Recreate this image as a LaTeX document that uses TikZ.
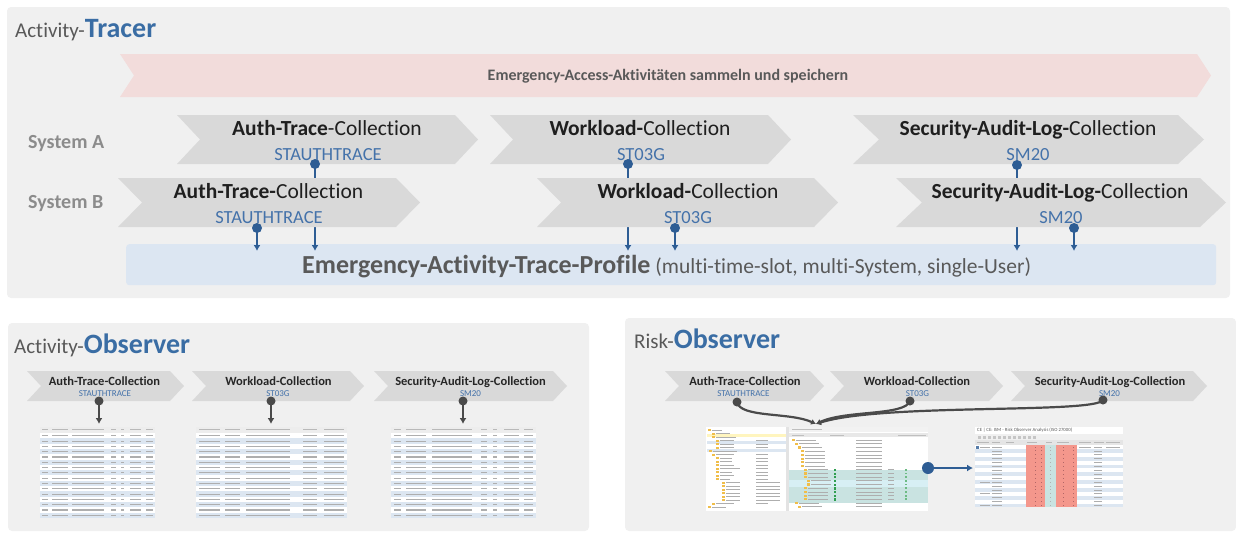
\documentclass[tikz,border=0pt]{standalone}
\usepackage{fontspec}
\setmainfont{Carlito}[Ligatures=NoCommon]
\usetikzlibrary{arrows.meta,calc}

\definecolor{panelgray}{HTML}{F0F0F0}
\definecolor{chevgray}{HTML}{D9D9D9}
\definecolor{bandpink}{HTML}{F2DCDB}
\definecolor{profblue}{HTML}{DCE6F2}
\definecolor{headblue}{HTML}{3A6DA4}
\definecolor{codeblue}{HTML}{4472AA}
\definecolor{linkblue}{HTML}{2E5D94}
\definecolor{textgray}{HTML}{595959}
\definecolor{sysgray}{HTML}{8C8C8C}
\definecolor{darklink}{HTML}{4A4A4A}
\definecolor{rowblue}{HTML}{DCE6F1}
\definecolor{bargray}{HTML}{AEAEAE}
\definecolor{salmon}{HTML}{F4978C}
\definecolor{tealrow}{HTML}{C9E3E1}
\definecolor{cyanrow}{HTML}{D7EFF4}
\definecolor{selyellow}{HTML}{FFF5BF}
\definecolor{markgreen}{HTML}{2E9E4F}
\definecolor{folder}{HTML}{F0BE4A}

\newcommand\fsz[1]{\fontsize{#1}{#1}\selectfont}
% chevron: x-left, x-right, y-top, y-bottom, point depth, fill colour
\newcommand\chevron[6]{%
  \fill[#6] (#1,#3) -- ({#2-#5},#3) -- (#2,{(#3+#4)/2}) -- ({#2-#5},#4)
    -- (#1,#4) -- ({#1+#5},{(#3+#4)/2}) -- cycle;}
% table snapshot: name, x, y, width, height, column spans (fractions a/b)
\newcommand\tablesnap[6]{%
  \node[shotbox, minimum width=#4pt, minimum height=#5pt] (#1) at (#2,#3) {};
  \begin{scope}[shift={(#2,#3)}]
    \fill[gray!14] (0,0) rectangle (#4,5.5);
    \foreach \r in {1,3,...,15}
      \fill[rowblue] (0,{6+\r*5.3}) rectangle (#4,{6+(\r+1)*5.3});
    \foreach \a/\b in {#6}
      \fill[gray!55] ({\a*#4},2.3) rectangle ({\b*#4},3.4);
    \foreach \r in {0,...,15}
      \foreach \a/\b in {#6}
        \fill[bargray] ({\a*#4},{8.2+\r*5.3}) rectangle ({\b*#4},{9.3+\r*5.3});
  \end{scope}}

\begin{document}
\begin{tikzpicture}[x=1pt, y=-1pt,
  ttl/.style={anchor=base, inner sep=0, font=\fsz{21.5}, text=black!88},
  cdtxt/.style={anchor=base, inner sep=0, font=\fsz{18.5}, text=codeblue},
  sttl/.style={anchor=base, inner sep=0, font=\fsz{12.5}\bfseries, text=black!85},
  scode/.style={anchor=base, inner sep=0, font=\fsz{9}, text=codeblue},
  sys/.style={anchor=base west, inner sep=0, font=\fsz{20}\bfseries, text=sysgray},
  bdot/.style={circle, fill=linkblue, inner sep=0, minimum size=10pt},
  gdot/.style={circle, fill=darklink, inner sep=0, minimum size=9pt},
  lnk/.style={draw=linkblue, line width=2pt, -{Latex[length=6pt,width=7pt]}},
  glnk/.style={draw=darklink, line width=2pt, -{Latex[length=6pt,width=7pt]}},
  clnk/.style={draw=darklink, line width=2.2pt, -{Latex[length=5pt,width=6pt]}},
  shotbox/.style={anchor=north west, fill=white, inner sep=0, outer sep=0},
  head/.style={anchor=base west, inner sep=0, font=\fsz{21}, text=textgray},
]
\useasboundingbox (0,0) rectangle (1236,533);

% ================= Activity-Tracer =================
\fill[panelgray, rounded corners=4pt] (7,7) rectangle (1230,298);
\node[head] (tracerTitle) at (15,37) {Activity-{\color{headblue}\fsz{28}\bfseries Tracer}};

\chevron{120}{1211}{54}{97}{14}{bandpink}
\node[font=\fsz{16}\bfseries, text=textgray, inner sep=0] (bandText) at (668,76)
  {Emergency-Access-Aktivitäten sammeln und speichern};

\node[sys] (sysA) at (28,148) {System A};
\node[sys] (sysB) at (28,208) {System B};

\node[anchor=north west, fill=profblue, rounded corners=3pt, inner sep=0,
      minimum width=1090pt, minimum height=41pt] (prof) at (126,244) {};
\node[anchor=base west, inner sep=0, text=textgray] (profText) at (302,273)
  {\fsz{26}\bfseries Emergency-Activity-Trace-Profile\mdseries\fsz{21.5} (multi-time-slot, multi-System, single-User)};

% System A row
\chevron{177}{478}{115}{164}{23}{chevgray}
\chevron{490}{791}{115}{164}{23}{chevgray}
\chevron{853}{1204}{115}{164}{26}{chevgray}
\node[ttl] (authA) at (327,135) {\textbf{Auth-Trace}-Collection};
\node[cdtxt] (authAcode) at (328,160) {STAUTHTRACE};
\node[ttl] (workA) at (640,135) {\textbf{Workload-}Collection};
\node[cdtxt] (workAcode) at (641,160) {ST03G};
\node[ttl] (salA) at (1028,135) {\textbf{Security-Audit-Log-}Collection};
\node[cdtxt] (salAcode) at (1028,160) {SM20};
\node[bdot] (dotAauth) at (315,164) {};
\node[bdot] (dotAwork) at (628,164) {};
\node[bdot] (dotAsal) at (1017,165) {};
\foreach \d in {dotAauth,dotAwork,dotAsal}
  \draw[lnk] (\d.center) -- ($(\d.center |- prof.north)+(0,7)$);

% System B row
\chevron{118}{420}{178}{227}{24}{chevgray}
\chevron{537}{838}{178}{227}{24}{chevgray}
\chevron{896}{1226}{178}{227}{26}{chevgray}
\node[ttl] (authB) at (268.5,198) {\textbf{Auth-Trace-}Collection};
\node[cdtxt] (authBcode) at (269,223) {STAUTHTRACE};
\node[ttl] (workB) at (688,198) {\textbf{Workload-}Collection};
\node[cdtxt] (workBcode) at (688,223) {ST03G};
\node[ttl] (salB) at (1060,198) {\textbf{Security-Audit-Log-}Collection};
\node[cdtxt] (salBcode) at (1061,223) {SM20};
\node[bdot] (dotBauth) at (257,228) {};
\node[bdot] (dotBwork) at (675,228) {};
\node[bdot] (dotBsal) at (1074,228) {};
\foreach \d in {dotBauth,dotBwork,dotBsal}
  \draw[lnk] (\d.center) -- ($(\d.center |- prof.north)+(0,7)$);

% ================= Activity-Observer =================
\fill[panelgray, rounded corners=4pt] (8,323) rectangle (589,531);
\node[head] (obsTitle) at (14,353) {Activity-{\color{headblue}\fsz{28}\bfseries Observer}};

\chevron{27}{184}{371}{401}{14}{chevgray}
\chevron{192}{364}{371}{401}{14}{chevgray}
\chevron{374}{567}{371}{401}{14}{chevgray}
\node[sttl] (oAuth) at (104.5,385) {Auth-Trace-Collection};
\node[scode] (oAuthCode) at (105,396) {STAUTHTRACE};
\node[sttl] (oWork) at (278.5,385) {Workload-Collection};
\node[scode] (oWorkCode) at (278,396) {ST03G};
\node[sttl] (oSal) at (470.5,385) {Security-Audit-Log-Collection};
\node[scode] (oSalCode) at (470.5,396) {SM20};

\tablesnap{tabAuth}{40}{427}{115}{91}{0.02/0.07, 0.10/0.24, 0.28/0.56, 0.62/0.66, 0.70/0.73, 0.78/0.88, 0.92/0.98}
\tablesnap{tabWork}{196}{427}{151}{91}{0.02/0.16, 0.19/0.29, 0.33/0.62, 0.71/0.80, 0.85/0.98}
\tablesnap{tabSal}{391}{427}{145}{91}{0.02/0.07, 0.10/0.24, 0.28/0.56, 0.62/0.66, 0.70/0.73, 0.78/0.88, 0.92/0.98}

\node[gdot] (gAuth) at (99,401) {};
\node[gdot] (gWork) at (271,401) {};
\node[gdot] (gSal) at (463,401) {};
\draw[glnk] (gAuth.center) -- ($(gAuth.center |- tabAuth.north)+(0,-3)$);
\draw[glnk] (gWork.center) -- ($(gWork.center |- tabWork.north)+(0,-3)$);
\draw[glnk] (gSal.center) -- ($(gSal.center |- tabSal.north)+(0,-3)$);

% ================= Risk-Observer =================
\fill[panelgray, rounded corners=4pt] (625,318) rectangle (1236,531);
\node[head] (riskTitle) at (634,348) {Risk-{\color{headblue}\fsz{28}\bfseries Observer}};

\chevron{665}{824}{371}{401}{14}{chevgray}
\chevron{830}{1003}{371}{401}{14}{chevgray}
\chevron{1011}{1207}{371}{401}{14}{chevgray}
\node[sttl] (rAuth) at (745,385) {Auth-Trace-Collection};
\node[scode] (rAuthCode) at (743.5,396) {STAUTHTRACE};
\node[sttl] (rWork) at (917,385) {Workload-Collection};
\node[scode] (rWorkCode) at (917.5,396) {ST03G};
\node[sttl] (rSal) at (1110,385) {Security-Audit-Log-Collection};
\node[scode] (rSalCode) at (1109.5,396) {SM20};

% tree view snapshot
\node[shotbox, minimum width=222pt, minimum height=84pt] (shotTree) at (706,427) {};
\begin{scope}[shift={(706,427)}]
  \fill[selyellow] (1,6.5) rectangle (80,10.2);
  \fill[rowblue] (1,13.5) rectangle (80,17);
  \fill[rowblue] (1,21.5) rectangle (80,25);
  \fill[gray!22] (80,0) rectangle (83,84);
  \foreach \r/\ind/\w/\s in {0/2/10/0, 1/6/14/0, 2/6/20/0, 3/10/14/1, 4/10/14/1,
      5/10/14/1, 6/3/24/0, 7/6/18/1, 8/10/12/1, 9/10/12/1, 10/10/14/1, 11/10/20/1,
      12/10/12/1, 13/10/14/1, 14/10/10/1, 15/16/14/2, 16/16/14/2, 17/16/14/2,
      18/16/14/2, 19/16/14/2, 20/16/14/2, 21/6/18/1, 22/2/14/0} {
    \fill[folder] (\ind,{2+\r*3.5}) rectangle ++(2.5,2.2);
    \fill[bargray] ({\ind+4},{2.7+\r*3.5}) rectangle ++(\w,0.9);
    \ifnum\s>0 \fill[bargray] (50,{2.7+\r*3.5}) rectangle ++({\s*12},0.9); \fi
  }
  \fill[gray!10] (83,0) rectangle (222,5);
  \fill[gray!50] (86,1.9) rectangle ++(30,1.2);
  \fill[gray!18] (83,6) rectangle (222,10);
  \fill[gray!50] (86,7.6) rectangle ++(12,0.9);
  \fill[gray!50] (124,7.6) rectangle ++(14,0.9);
  \fill[gray!50] (192,7.6) rectangle ++(28,0.9);
  \fill[tealrow] (83,43) rectangle (222,53);
  \fill[cyanrow] (83,53) rectangle (222,60);
  \fill[tealrow] (83,60) rectangle (222,76);
  \foreach \r/\ind/\g in {0/86/0, 1/89/0, 2/92/0, 3/95/0, 4/95/0, 5/95/0, 6/95/0,
      7/95/0, 8/98/1, 9/98/1, 10/98/1, 11/101/1, 12/101/1, 13/98/1, 14/98/1,
      15/98/1, 16/98/1, 17/89/0, 18/92/0} {
    \fill[folder] (\ind,{12+\r*3.7}) rectangle ++(2.5,2.2);
    \fill[bargray] ({\ind+4},{12.7+\r*3.7}) rectangle ++(20,0.9);
    \fill[bargray] (150,{12.7+\r*3.7}) rectangle ++(26,0.9);
    \ifnum\g>0
      \fill[markgreen] (128,{12.2+\r*3.7}) rectangle ++(2,2.2);
      \fill[bargray] (182,{12.7+\r*3.7}) rectangle ++(6,0.9);
      \fill[markgreen!70] (199,{12.2+\r*3.7}) rectangle ++(1.8,1.8);
    \fi
  }
\end{scope}

% risk analysis snapshot
\node[shotbox, minimum width=148pt, minimum height=80pt] (shotRisk) at (975,427) {};
\begin{scope}[shift={(975,427)}]
  \node[anchor=west, inner sep=0, font=\fsz{4.8}, text=textgray] (riskCap) at (2,3.6)
    {CE | CE: ISM - Risk Observer Analysis (ISO 27000)};
  \fill[gray!12] (0,7) rectangle (148,13);
  \foreach \x in {3,8,...,58} \fill[gray!45] (\x,8.5) rectangle ++(3,3);
  \fill[gray!20] (0,13) rectangle (148,18);
  \foreach \x/\w in {2/12, 17/8, 31/8, 52/10, 71/6, 82/12, 104/12, 119/10, 131/14}
    \fill[gray!55] (\x,14.9) rectangle ++(\w,1);
  \foreach \r in {1,3,...,15}
    \fill[rowblue] (0,{18+\r*3.9}) rectangle (148,{18+(\r+1)*3.9});
  \fill[salmon] (51,18) rectangle (70,80);
  \fill[tealrow] (70,18) rectangle (81,80);
  \fill[salmon] (81,18) rectangle (102,80);
  \fill[linkblue!80] (1,18.5) rectangle (4,21.5);
  \foreach \r in {0,...,15} {
    \fill[bargray] (17,{19.6+\r*3.9}) rectangle ++(10,0.9);
    \fill[bargray] (119,{19.6+\r*3.9}) rectangle ++(8,0.9);
    \fill[red!50!black!60] (60,{19.5+\r*3.9}) rectangle ++(1.3,1);
    \fill[red!50!black!60] (66,{19.5+\r*3.9}) rectangle ++(1.3,1);
    \fill[gray!60] (75,{19.5+\r*3.9}) rectangle ++(1.3,1);
    \fill[red!50!black!60] (88,{19.5+\r*3.9}) rectangle ++(1.3,1);
    \fill[red!50!black!60] (98,{19.5+\r*3.9}) rectangle ++(1.3,1);
  }
  \foreach \r in {0,9,12,15}
    \fill[bargray] (5,{19.6+\r*3.9}) rectangle ++(10,0.9);
  \fill[bargray] (131,19.6) rectangle ++(14,0.9);
  \fill[bargray] (104,19.6) rectangle ++(12,0.9);
\end{scope}

\node[gdot] (rDotAuth) at (737,402) {};
\node[gdot] (rDotWork) at (910,401) {};
\node[gdot] (rDotSal) at (1103,400) {};
\coordinate (conv) at (816,424);
\draw[clnk] (rDotAuth.center) .. controls (740,418) and (790,412) .. (conv);
\draw[clnk] (rDotWork.center) .. controls (905,416) and (845,410) .. (conv);
\draw[clnk] (rDotSal.center) .. controls (1095,414) and (880,403) .. (conv);

\node[bdot, minimum size=12pt] (riskDot) at (928,468) {};
\draw[lnk, line width=2.5pt] (riskDot.center) -- ($(shotRisk.west |- riskDot.center)+(-2,0)$);
\end{tikzpicture}
\end{document}
